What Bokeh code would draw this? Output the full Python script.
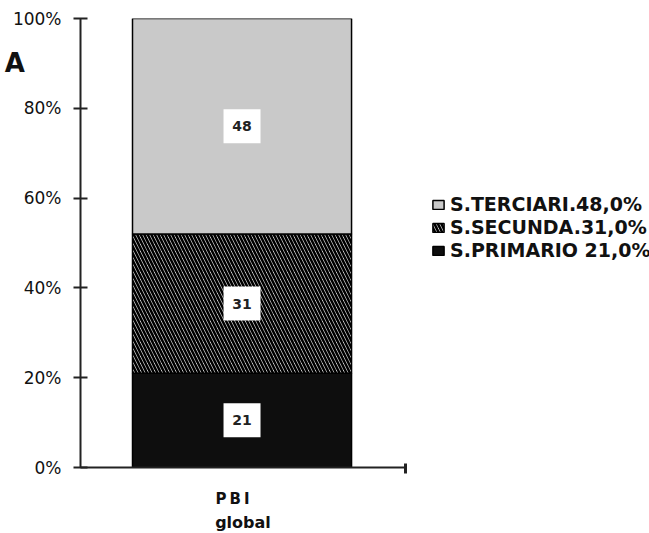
import numpy as np
from bokeh.plotting import figure
from bokeh.models import Range1d, FixedTicker, Legend, LegendItem, Title, CustomJSTickFormatter
from bokeh.core.properties import value
from bokeh.embed import file_html
from bokeh.resources import INLINE

# ---- data ----
category = "PBI global"
sectors = ["S.PRIMARIO", "S.SECUNDA", "S.TERCIARI"]
shares = [21, 31, 48]
legend_labels = ["S.PRIMARIO 21,0%", "S.SECUNDA.31,0%", "S.TERCIARI.48,0%"]
y_ticks = [0, 20, 40, 60, 80, 100]
x_label = "P\u2009B\u2009I\u00a0\u00a0\u00a0\u00a0"
x_sublabel = "global"
corner_text = "A"

# ---- styles ----
fills = ["#0e0e0e", "#ffffff", "#c9c9c9"]
hatches = [None, "\\", None]
FONT = "DejaVu Sans"

bar_x = 0.497
bar_w = 0.674

p = figure(frame_width=325, frame_height=449,
           x_range=Range1d(0, 1), y_range=Range1d(0, 100),
           output_backend="svg", toolbar_location=None,
           min_border_left=80, min_border_top=18, min_border_right=244,
           min_border_bottom=66, outline_line_color=None)
p.grid.visible = False
p.background_fill_color = "white"

tops = np.cumsum(shares)
bottoms = tops - np.array(shares)

renderers = []
for i, s in enumerate(sectors):
    kw = dict(fill_color=fills[i], line_color="black", line_width=1.5)
    if hatches[i]:
        kw.update(hatch_pattern=hatches[i], hatch_color="black", hatch_scale=7, hatch_weight=2.6)
    r = p.vbar(x=[bar_x], bottom=[bottoms[i]], top=[tops[i]], width=bar_w, **kw)
    renderers.append(r)

mids = (bottoms + tops) / 2
p.rect(x=[bar_x] * 3, y=list(mids), width=37, height=34, width_units="screen", height_units="screen",
       fill_color="white", line_color=None)
p.text(x=[bar_x] * 3, y=list(mids), text=[str(v) for v in shares], text_align="center",
       text_baseline="middle", text_font=value(FONT), text_font_style="bold", text_font_size="14px",
       text_color="#222222")

# y axis
ya = p.yaxis[0]
ya.ticker = FixedTicker(ticks=y_ticks)
ya.formatter = CustomJSTickFormatter(code="return tick + '%';")
ya.major_label_text_font = FONT
ya.major_label_text_font_size = "17px"
ya.major_label_text_color = "#111111"
ya.major_tick_in = 7
ya.major_tick_out = 7
ya.minor_tick_line_color = None
ya.major_label_standoff = 12
ya.axis_line_width = 2
ya.major_tick_line_width = 2
ya.axis_line_color = "#222222"
ya.major_tick_line_color = "#222222"
# the stray "A" at the upper left, lifted by blank lines below it
ya.axis_label = corner_text + "\n\u00a0" * 12
ya.axis_label_orientation = "horizontal"
ya.axis_label_text_font = FONT
ya.axis_label_text_font_style = "bold"
ya.axis_label_text_font_size = "26px"
ya.axis_label_text_line_height = 1.0
ya.axis_label_text_color = "#111111"
ya.axis_label_standoff = -15

# x axis
xa = p.xaxis[0]
xa.ticker = FixedTicker(ticks=[1])
xa.major_label_overrides = {1: ""}
xa.major_label_text_font_size = "0px"
xa.major_label_standoff = 0
xa.major_tick_in = 4
xa.major_tick_out = 6
xa.minor_tick_line_color = None
xa.axis_line_width = 2
xa.major_tick_line_width = 3
xa.axis_line_color = "#222222"
xa.major_tick_line_color = "#222222"
xa.axis_label = x_label
xa.axis_label_text_font = FONT
xa.axis_label_text_font_style = "bold"
xa.axis_label_text_font_size = "15px"
xa.axis_label_text_color = "#111111"
xa.axis_label_standoff = 16

p.add_layout(Title(text=x_sublabel, align="center", text_font=FONT, text_font_style="bold",
                   text_font_size="16px", text_color="#111111", standoff=0, offset=0), "below")

# legend
items = [LegendItem(label=legend_labels[i], renderers=[renderers[i]]) for i in [2, 1, 0]]
legend = Legend(items=items, location=(26, 206), glyph_width=14, glyph_height=11,
                label_standoff=5, spacing=1, padding=0, margin=0,
                label_text_font=FONT, label_text_font_style="bold", label_text_font_size="19px",
                label_text_color="#111111", border_line_color=None, background_fill_alpha=0)
p.add_layout(legend, "right")

open("out.html", "w").write(file_html(p, INLINE))
